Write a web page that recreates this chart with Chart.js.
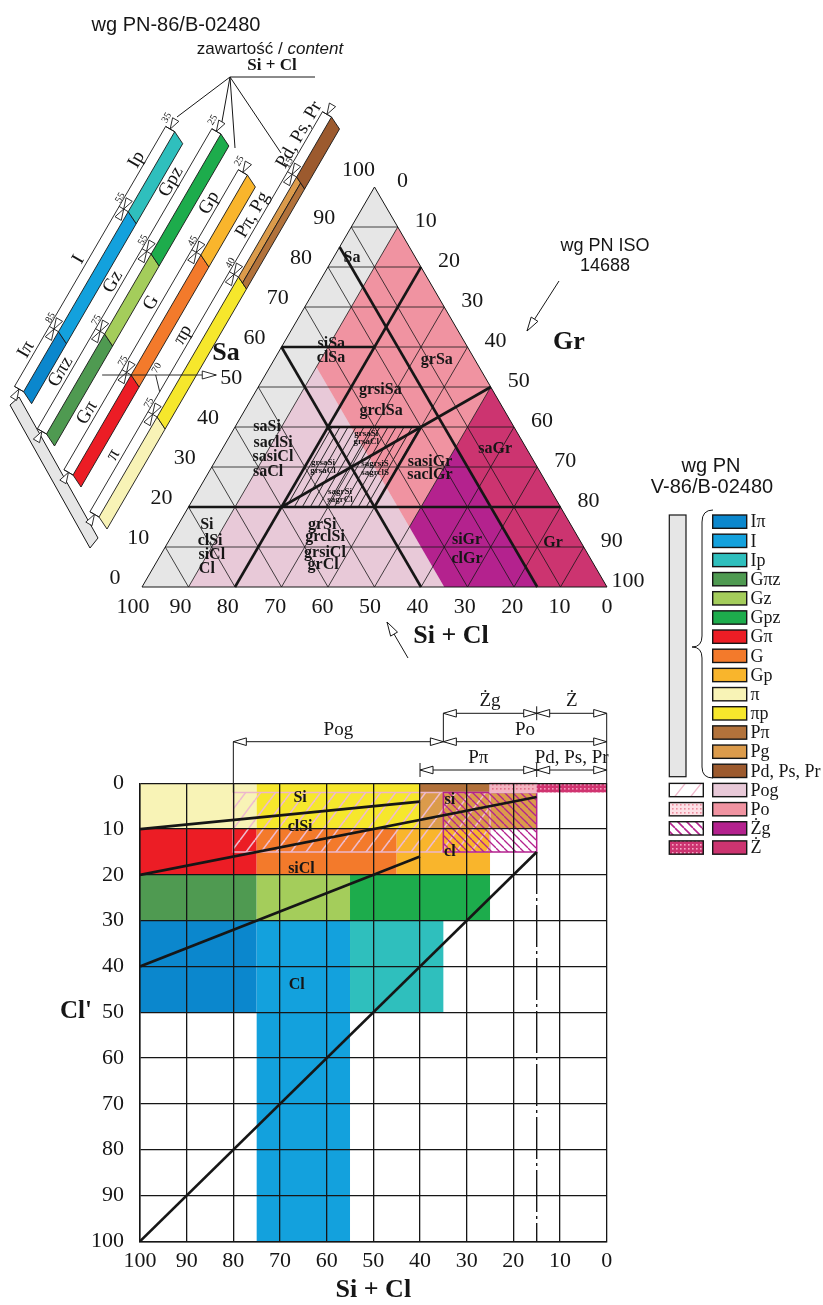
<!DOCTYPE html>
<html lang="pl">
<head>
<meta charset="utf-8">
<title>Klasyfikacja gruntów – PN-86/B-02480 i PN-EN ISO 14688</title>
<script src="https://cdn.jsdelivr.net/npm/chart.js@4.4.1/dist/chart.umd.min.js"></script>
<style>
  html, body { margin: 0; padding: 0; background: #fff; }
  body { position: relative; width: 823px; height: 1305px; overflow: hidden; }
  canvas { position: absolute; left: 0; }
  #tern { top: 0; }
  #grid { top: 680px; }
</style>
</head>
<body>
<canvas id="tern" width="823" height="1305"></canvas>
<canvas id="grid" width="640" height="625"></canvas>
<script>
const SERIF = '"Liberation Serif", "Times New Roman", serif';
const SANS = '"Liberation Sans", Arial, sans-serif';
const INK = '#161616';

// ---------- PN-86/B-02480 classes and their colours ----------
const classNames = ['Iπ', 'I', 'Ip', 'Gπz', 'Gz', 'Gpz', 'Gπ', 'G', 'Gp', 'π', 'πp', 'Pπ', 'Pg', 'Pd, Ps, Pr'];
const classColors = ['#0b87cd', '#13a1dd', '#2fbfbd', '#4f9a51', '#a4cd5b', '#1dac4c', '#ec1d25', '#f37a2b',
                     '#f9b52c', '#f8f3b6', '#f6e72c', '#b2723b', '#db9b4b', '#9c5a2e'];
const coarseNames = ['Pog', 'Po', 'Żg', 'Ż'];
const coarseColors = ['#e8c9d8', '#f093a1', '#b4228e', '#cc3470'];
function colorOf(name) {
  const i = classNames.indexOf(name);
  if (i >= 0) return classColors[i];
  return coarseColors[coarseNames.indexOf(name)];
}

// ---------- ternary diagram: Sa / Gr / (Si + Cl), vertices given as [Sa, Gr] in % ----------
const ternTicks = [0, 10, 20, 30, 40, 50, 60, 70, 80, 90, 100];
const zoneSand = [[0, 0], [0, 100], [100, 0]];
const zonePog = [[0, 10], [0, 65], [55, 10]];
const zonePo = [[55, 10], [90, 10], [50, 50], [15, 50]];
const zoneZg = [[35, 50], [15, 50], [0, 65], [0, 85]];
const zoneZ = [[50, 50], [35, 50], [0, 85], [0, 100]];
const zoneMixed = [[20, 20], [20, 40], [40, 40], [40, 20]];
// ISO 14688 class boundaries [Sa1, Gr1, Sa2, Gr2]
const isoBoundaries = [[20, 0, 20, 80], [85, 0, 0, 85], [60, 0, 0, 60], [0, 20, 80, 20],
                       [40, 20, 40, 40], [20, 40, 40, 40], [20, 20, 50, 50], [60, 0, 60, 20]];
// ISO 14688 soil names [name, Sa, Gr]
const isoNames = [
  ['Sa', 82.3, 4.0], ['siSa', 60.8, 10.3], ['clSa', 57.3, 12.0], ['grSa', 56.8, 35],
  ['grsiSa', 49.3, 26.6], ['grclSa', 44, 29.4], ['saGr', 34.5, 58.7],
  ['sasiGr', 31.3, 46.3], ['saclGr', 28, 47.9], ['siGr', 11.8, 64], ['clGr', 7, 66.4], ['Gr', 11, 82.9],
  ['grSi', 15.5, 31], ['grclSi', 12.5, 33.1], ['grsiCl', 8.5, 35.1], ['grCl', 5.5, 36.2],
  ['saSi', 40, 6.9], ['saclSi', 36, 10.2], ['sasiCl', 32.5, 11.9], ['saCl', 28.8, 12.7],
  ['Si', 15.5, 6.2], ['clSi', 11.5, 8.9], ['siCl', 8, 11], ['Cl', 4.5, 11.7]
];
const isoNamesSmall = [
  ['grsaSi', 38.3, 29.1], ['grsaCl', 36.3, 30.1], ['grsaSi', 31, 23.4], ['grsaCl', 29, 24.4],
  ['sagrsiS', 30.8, 34.7], ['sagrclS', 28.5, 35.9], ['sagrSi', 23.8, 30.7], ['sagrCl', 21.8, 31.7]
];

// ---------- Si + Cl content scales of the PN-86 classes [name, from, to] ----------
const scaleI = [['Iπ', 100, 85], ['I', 85, 55], ['Ip', 55, 35]];
const scaleGz = [['Gπz', 100, 75], ['Gz', 75, 55], ['Gpz', 55, 25]];
const scaleG = [['Gπ', 100, 75], ['G', 75, 45], ['Gp', 45, 25]];
const scaleP = [['π', 100, 75], ['πp', 75, 40], ['Pπ, Pg', 40, 15], ['Pd, Ps, Pr', 15, 0]];
const scaleMarks = [[85, 55, 35], [75, 55, 25], [75, 45, 25], [75, 40, 15]];

// ---------- Cl' versus Si + Cl chart ----------
const cellNames = ['π', 'πp', 'Pπ', 'Pg', 'Gπ', 'G', 'Gp', 'Gπz', 'Gz', 'Gpz', 'Iπ', 'I', 'Ip'];
const cellSiCl = [[100, 75], [75, 40], [40, 25], [40, 15], [100, 75], [75, 45], [45, 25],
                  [100, 75], [75, 55], [55, 25], [100, 75], [75, 55], [55, 35]];
const cellClp = [[0, 10], [0, 10], [0, 2], [2, 10], [10, 20], [10, 20], [10, 20],
                 [20, 30], [20, 30], [20, 30], [30, 50], [30, 100], [30, 50]];
const overlayNames = ['Pog', 'Żg', 'Po', 'Ż'];
const overlaySiCl = [[80, 25], [35, 15], [25, 15], [15, 0]];
const overlayClp = [[2, 15], [2, 15], [0, 2], [0, 2]];
// [Si+Cl, Cl', Si+Cl, Cl']
const clRatioLines = [[100, 10, 40, 4], [100, 20, 15, 3], [100, 40, 40, 16], [100, 100, 15, 15]];
const gravelLimit = [[15, 15], [15, 100]];
const bracketNames = ['Pog', 'Po', 'Żg', 'Ż', 'Pπ', 'Pd, Ps, Pr'];
const bracketSiCl = [[80, 35], [35, 0], [35, 15], [15, 0], [40, 15], [15, 0]];
const bracketRow = [2, 2, 3, 3, 1, 1];
const gridNames = [['Si', 65.7, 3.2], ['clSi', 65.7, 9.5], ['siCl', 65.4, 18.6], ['Cl', 66.4, 44],
                   ['si', 33.6, 3.6], ['cl', 33.6, 14.9]];

// ---------- helpers ----------
function makePattern(ctx, w, h, bg, paint) {
  const c = document.createElement('canvas');
  c.width = w; c.height = h;
  const g = c.getContext('2d');
  if (bg) { g.fillStyle = bg; g.fillRect(0, 0, w, h); }
  paint(g, w, h);
  return ctx.createPattern(c, 'repeat');
}
function strokeLines(g, color, width, segs) {
  g.strokeStyle = color; g.lineWidth = width;
  segs.forEach(([a, b, c, d]) => { g.beginPath(); g.moveTo(a, b); g.lineTo(c, d); g.stroke(); });
}
function dots(g, color, w, h) {
  g.fillStyle = color;
  for (let y = 0; y < h; y += 4) for (let x = (y / 4) % 2 ? 2 : 0; x < w; x += 4) g.fillRect(x, y, 1.6, 1.6);
}
function openArrow(ctx, tx, ty, dx, dy, len, half) {
  const bx = tx - dx * len, by = ty - dy * len;
  const keep = ctx.fillStyle;
  ctx.beginPath();
  ctx.moveTo(tx, ty);
  ctx.lineTo(bx - dy * half, by + dx * half);
  ctx.lineTo(bx + dy * half, by - dx * half);
  ctx.closePath();
  ctx.fillStyle = '#fff'; ctx.fill(); ctx.stroke();
  ctx.fillStyle = keep;
}
function line(ctx, a, b) { ctx.beginPath(); ctx.moveTo(a[0], a[1]); ctx.lineTo(b[0], b[1]); ctx.stroke(); }
function rotText(ctx, txt, x, y, ang) {
  ctx.save(); ctx.translate(x, y); ctx.rotate(ang);
  ctx.textAlign = 'center'; ctx.textBaseline = 'middle';
  ctx.fillText(txt, 0, 0); ctx.restore();
}

// Fills a dataset's points as a closed polygon (plain colour or pattern)
const polygonFill = {
  id: 'polygonFill',
  beforeDatasetDraw(chart, args) {
    const ds = chart.data.datasets[args.index];
    if (!ds.areaFill && !ds.outline) return;
    const pts = args.meta.data, ctx = chart.ctx;
    ctx.save();
    ctx.beginPath();
    pts.forEach((p, i) => (i ? ctx.lineTo(p.x, p.y) : ctx.moveTo(p.x, p.y)));
    ctx.closePath();
    if (ds.areaFill) { ctx.fillStyle = ds.areaFill; ctx.fill(); }
    if (ds.outline) { ctx.strokeStyle = ds.outline; ctx.lineWidth = ds.outlineWidth || 1; ctx.stroke(); }
    ctx.restore();
  }
};

// =====================================================================
// Ternary diagram + the class scales on the left + legend on the right
// =====================================================================
const ternCanvas = document.getElementById('tern');
const tctx = ternCanvas.getContext('2d');
const hatchMixed = makePattern(tctx, 8, 14, null, g =>
  strokeLines(g, '#111', 0.9, [[0, 14, 8, 0], [-8, 14, 0, 0], [8, 14, 16, 0]]));

const T = (sa, gr) => ({ x: gr + sa / 2, y: sa });
const ternSets = [];
function ternZone(vs, fillStyle) {
  ternSets.push({ data: vs.map(v => T(v[0], v[1])), showLine: false, pointRadius: 0, areaFill: fillStyle });
}
function ternSeg(sa1, gr1, sa2, gr2, width) {
  ternSets.push({ data: [T(sa1, gr1), T(sa2, gr2)], showLine: true, fill: false, borderColor: INK,
                  borderWidth: width, pointRadius: 0, clip: 20 });
}
ternZone(zoneSand, '#e6e6e6');
ternZone(zonePog, colorOf('Pog'));
ternZone(zonePo, colorOf('Po'));
ternZone(zoneZg, colorOf('Żg'));
ternZone(zoneZ, colorOf('Ż'));
ternZone(zoneMixed, hatchMixed);
ternTicks.slice(1, -1).forEach(v => {
  ternSeg(v, 0, v, 100 - v, 0.8);          // constant Sa
  ternSeg(0, v, 100 - v, v, 0.8);          // constant Gr
  ternSeg(100 - v, 0, 0, 100 - v, 0.8);    // constant Si + Cl
});
isoBoundaries.forEach(b => ternSeg(b[0], b[1], b[2], b[3], 2.6));
ternSeg(0, 0, 100, 0, 1); ternSeg(100, 0, 0, 100, 1); ternSeg(0, 0, 0, 100, 1);
ternSets.forEach((d, i) => { d.order = -i; });

const columnShift = [[-118.4, -195.3], [-95.5, -153], [-69, -112], [-43, -70]];
const columnScales = [scaleI, scaleGz, scaleG, scaleP];

function drawScales(ctx, sx, sy) {
  const e0 = [sx.getPixelForValue(0), sy.getPixelForValue(0)];
  const e1 = [sx.getPixelForValue(50), sy.getPixelForValue(100)];
  const L = Math.hypot(e1[0] - e0[0], e1[1] - e0[1]);
  const up = [(e1[0] - e0[0]) / L, (e1[1] - e0[1]) / L];
  const pl = [up[1], -up[0]];
  const ang = Math.atan2(up[1], up[0]);
  const cut = [8, 12];
  const q = [pl[0] * 10.5, pl[1] * 10.5];
  const add = (a, b, k = 1) => [a[0] + b[0] * k, a[1] + b[1] * k];
  const cp = (k, s) => [sx.getPixelForValue((100 - s) / 2) + columnShift[k][0],
                        sy.getPixelForValue(100 - s) + columnShift[k][1]];
  ctx.lineWidth = 0.9; ctx.strokeStyle = INK;
  function quad(a, b, f0, f1, color) {
    ctx.beginPath();
    const p = [add(a, cut, f0), add(b, cut, f0), add(b, cut, f1), add(a, cut, f1)];
    p.forEach((v, i) => (i ? ctx.lineTo(v[0], v[1]) : ctx.moveTo(v[0], v[1])));
    ctx.closePath();
    if (color) { ctx.fillStyle = color; ctx.fill(); }
    ctx.stroke();
  }
  columnScales.forEach((segs, k) => {
    segs.forEach(([name, s1, s2]) => {
      const a = cp(k, s1), b = cp(k, s2);
      if (name === 'Pπ, Pg') {
        quad(a, b, 0, 0.5, colorOf('Pg'));
        quad(a, b, 0.5, 1, colorOf('Pπ'));
      } else quad(a, b, 0, 1, colorOf(name));
    });
    const sBot = segs[0][1], sTop = segs[segs.length - 1][2];
    const bot = cp(k, sBot), top = cp(k, sTop);
    line(ctx, add(bot, q), add(top, q));
    line(ctx, bot, add(bot, q));
    line(ctx, top, add(top, q));
    const bounds = [sBot].concat(segs.map(s => s[2]));
    bounds.forEach(b => {
      const p = cp(k, b);
      line(ctx, p, add(p, q));
      const m = add(p, q, 0.5);
      if (b < sBot) openArrow(ctx, m[0], m[1], -up[0], -up[1], 11, 3.6);
      if (b > sTop) openArrow(ctx, m[0], m[1], up[0], up[1], 11, 3.6);
    });
    ctx.fillStyle = INK;
    ctx.font = `10px ${SERIF}`;
    scaleMarks[k].forEach(b => {
      const p = add(add(cp(k, b), pl, 14), up, 8);
      rotText(ctx, String(b), p[0], p[1], ang);
    });
    ctx.font = `19px ${SERIF}`;
    segs.forEach(([name, s1, s2]) => {
      const p = add(add(cp(k, (s1 + s2) / 2), pl, 19), up, 3);
      rotText(ctx, name, p[0], p[1], ang);
    });
  });
  // Si+Cl = 75 of the G column read against Sa = 50
  const g75 = cp(2, 75);
  const tip = sx.getPixelForValue(25) - 42;
  line(ctx, [g75[0] - 29, g75[1]], [tip, g75[1]]);
  openArrow(ctx, tip, g75[1], 1, 0, 14, 4);
  const p70 = add(cp(3, 70), q);
  line(ctx, p70, [p70[0] - 4, g75[1]]);
  ctx.fillStyle = INK; ctx.font = `10px ${SERIF}`;
  const t70 = add(add(cp(3, 70), pl, 25), up, 19);
  rotText(ctx, '70', t70[0], t70[1], ang);
}

function drawLegend(ctx) {
  ctx.fillStyle = INK; ctx.strokeStyle = INK;
  ctx.font = `20px ${SANS}`; ctx.textAlign = 'center'; ctx.textBaseline = 'middle';
  ctx.fillText('wg PN', 711, 466);
  ctx.fillText('V-86/B-02480', 712, 487);
  const x0 = 712.7, w = 34, h = 13.3, step = 19.17, y0 = 515;
  // grey column standing for every class in the brace
  ctx.lineWidth = 1.2;
  ctx.fillStyle = '#e6e6e6';
  ctx.fillRect(669.3, 515, 16.7, 261.7); ctx.strokeRect(669.3, 515, 16.7, 261.7);
  // brace
  ctx.lineWidth = 1;
  ctx.beginPath();
  ctx.moveTo(713, 510); ctx.quadraticCurveTo(702, 510, 702, 522); ctx.lineTo(702, 636);
  ctx.quadraticCurveTo(702, 647, 692, 647); ctx.quadraticCurveTo(702, 647, 702, 658);
  ctx.lineTo(702, 767); ctx.quadraticCurveTo(702, 778, 713, 778); ctx.stroke();
  const names = classNames.concat(coarseNames);
  const pats = [
    makePattern(ctx, 16, 20, '#fff', g => strokeLines(g, '#efb9cd', 1.4, [[0, 20, 16, 0], [-16, 20, 0, 0], [16, 20, 32, 0]])),
    makePattern(ctx, 4, 4, '#fde0e6', g => dots(g, '#ee8ea0', 4, 4)),
    makePattern(ctx, 9, 9, '#fff', g => strokeLines(g, '#b4228e', 1.6, [[0, 0, 9, 9], [-9, 0, 0, 9], [9, 0, 18, 9]])),
    makePattern(ctx, 4, 4, '#cc3470', g => dots(g, '#f6a8c6', 4, 4))
  ];
  ctx.font = `18px ${SERIF}`; ctx.textAlign = 'left';
  names.forEach((n, i) => {
    const y = y0 + i * step;
    ctx.lineWidth = 1.4;
    ctx.fillStyle = colorOf(n); ctx.fillRect(x0, y, w, h); ctx.strokeRect(x0, y, w, h);
    if (i >= classNames.length) {
      ctx.fillStyle = pats[i - classNames.length];
      ctx.fillRect(669.3, y, w, h); ctx.strokeRect(669.3, y, w, h);
    }
    ctx.fillStyle = INK;
    ctx.fillText(n, 750.5, y + h / 2 + 1);
  });
}

const ternDecor = {
  id: 'ternDecor',
  afterDatasetsDraw(chart) {
    const ctx = chart.ctx, sx = chart.scales.x, sy = chart.scales.y;
    const P = (sa, gr) => [sx.getPixelForValue(gr + sa / 2), sy.getPixelForValue(sa)];
    ctx.save();
    ctx.fillStyle = INK; ctx.strokeStyle = INK;
    ctx.textAlign = 'center'; ctx.textBaseline = 'middle';
    // axis values
    ctx.font = `22px ${SERIF}`;
    ternTicks.forEach(v => {
      let p = P(v, 0);
      if (v === 100) ctx.fillText('100', p[0] - 16, p[1] - 17);
      else ctx.fillText(String(v), p[0] - 27, p[1] - 9);
      p = P(100 - v, v);
      ctx.fillText(String(v), p[0] + (v === 100 ? 21 : 28), p[1] - 6);
      p = P(0, 100 - v);
      ctx.fillText(String(v), p[0] - 9 * v / 100, p[1] + 20);
    });
    // axis names
    ctx.font = `bold 26px ${SERIF}`;
    ctx.fillText('Sa', 226, 353);
    ctx.fillText('Gr', 569, 342);
    ctx.fillText('Si + Cl', 451, 636);
    // soil names
    ctx.font = `bold 16px ${SERIF}`;
    isoNames.forEach(([n, sa, gr]) => { const p = P(sa, gr); ctx.fillText(n, p[0], p[1]); });
    ctx.font = `bold 9px ${SERIF}`;
    isoNamesSmall.forEach(([n, sa, gr]) => { const p = P(sa, gr); ctx.fillText(n, p[0], p[1]); });
    // pointers
    ctx.lineWidth = 1;
    line(ctx, [408, 658], [387, 622]);
    openArrow(ctx, 387, 622, -0.504, -0.864, 14, 4);
    line(ctx, [559, 281], [527, 331]);
    openArrow(ctx, 527, 331, -0.539, 0.842, 14, 4);
    ctx.fillStyle = INK;
    ctx.font = `18px ${SANS}`;
    ctx.fillText('wg PN ISO', 605, 246);
    ctx.fillText('14688', 605, 266);
    // title and content note
    ctx.font = `20px ${SANS}`;
    ctx.fillText('wg PN-86/B-02480', 176, 25);
    const a = 'zawartość ', b = '/ ';
    ctx.font = `17px ${SANS}`;
    const wa = ctx.measureText(a).width, wb = ctx.measureText(b).width;
    ctx.font = `italic 17px ${SANS}`;
    const wc = ctx.measureText('content').width;
    const x = 270 - (wa + wb + wc) / 2;
    ctx.textAlign = 'left';
    ctx.font = `17px ${SANS}`; ctx.fillText(a + b, x, 49);
    ctx.font = `italic 17px ${SANS}`; ctx.fillText('content', x + wa + wb, 49);
    ctx.textAlign = 'center';
    ctx.font = `bold 17px ${SERIF}`; ctx.fillText('Si + Cl', 272, 66);
    ctx.lineWidth = 1;
    line(ctx, [230, 77], [315, 77]);
    [[177, 117], [221, 127], [235, 148], [281, 153]].forEach(e => line(ctx, [230, 77], e));
    // grey bar for the soils not split by Si+Cl
    ctx.beginPath();
    ctx.moveTo(10, 405); ctx.lineTo(19, 397); ctx.lineTo(98, 538); ctx.lineTo(90, 548); ctx.closePath();
    ctx.fillStyle = '#e6e6e6'; ctx.fill(); ctx.stroke();
    drawScales(ctx, sx, sy);
    drawLegend(ctx);
    ctx.restore();
  }
};

new Chart(ternCanvas, {
  type: 'scatter',
  data: { datasets: ternSets },
  options: {
    responsive: false, animation: false, events: [],
    layout: { padding: { left: 142, right: 216, top: 187, bottom: 718 } },
    scales: { x: { min: 0, max: 100, display: false }, y: { min: 0, max: 100, display: false } },
    plugins: { legend: { display: false }, tooltip: { enabled: false } }
  },
  plugins: [polygonFill, ternDecor]
});

// =====================================================================
// Cl' against Si + Cl
// =====================================================================
const gridCanvas = document.getElementById('grid');
const gctx = gridCanvas.getContext('2d');
const overlayFills = [
  makePattern(gctx, 15, 20, null, g => strokeLines(g, '#eebbcf', 1.6, [[0, 20, 15, 0], [-15, 20, 0, 0], [15, 20, 30, 0]])),
  makePattern(gctx, 8, 8, null, g => strokeLines(g, '#b4228e', 1.3, [[0, 0, 8, 8], [-8, 0, 0, 8], [8, 0, 16, 8]])),
  makePattern(gctx, 4, 4, '#f4b3c0', g => dots(g, '#e2738a', 4, 4)),
  makePattern(gctx, 4, 4, '#d03470', g => dots(g, '#f39abd', 4, 4))
];
const overlayEdges = ['#ecb6cb', '#b4228e', '#ecb6cb', null];

const gridSets = [];
const rect = (xs, ys) => [{ x: xs[0], y: ys[0] }, { x: xs[1], y: ys[0] }, { x: xs[1], y: ys[1] }, { x: xs[0], y: ys[1] }];
cellNames.forEach((n, i) => gridSets.push({ data: rect(cellSiCl[i], cellClp[i]), showLine: false, pointRadius: 0,
                                            areaFill: colorOf(n) }));
overlayNames.forEach((n, i) => gridSets.push({ data: rect(overlaySiCl[i], overlayClp[i]), showLine: false, pointRadius: 0,
                                               areaFill: overlayFills[i], outline: overlayEdges[i], outlineWidth: 1.5 }));
clRatioLines.forEach(l => gridSets.push({ data: [{ x: l[0], y: l[1] }, { x: l[2], y: l[3] }], showLine: true, fill: false,
                                          borderColor: INK, borderWidth: 2.6, pointRadius: 0 }));
gridSets.push({ data: gravelLimit.map(p => ({ x: p[0], y: p[1] })), showLine: true, fill: false, borderColor: INK,
                borderWidth: 1.4, borderDash: [42, 4, 3, 4], pointRadius: 0 });
gridSets.forEach((d, i) => { d.order = -i; });

const gridDecor = {
  id: 'gridDecor',
  afterDraw(chart) {
    const ctx = chart.ctx, sx = chart.scales.x, sy = chart.scales.y;
    ctx.save();
    ctx.fillStyle = INK; ctx.strokeStyle = INK;
    ctx.textAlign = 'center'; ctx.textBaseline = 'middle';
    ctx.font = `bold 16px ${SERIF}`;
    gridNames.forEach(([n, x, y]) => ctx.fillText(n, sx.getPixelForValue(x), sy.getPixelForValue(y)));
    ctx.font = `bold 25px ${SERIF}`;
    ctx.fillText("Cl'", 76, 332);
    ctx.font = `bold 26px ${SERIF}`;
    ctx.fillText('Si + Cl', (chart.chartArea.left + chart.chartArea.right) / 2, 610);
    // class ranges above the chart
    const rowY = { 1: 90, 2: 61.7, 3: 33.3 };
    const top = chart.chartArea.top;
    ctx.lineWidth = 1;
    line(ctx, [sx.getPixelForValue(80), rowY[2]], [sx.getPixelForValue(80), sy.getPixelForValue(2)]);
    line(ctx, [sx.getPixelForValue(35), rowY[3]], [sx.getPixelForValue(35), rowY[2]]);
    line(ctx, [sx.getPixelForValue(0), rowY[3]], [sx.getPixelForValue(0), top]);
    [[40, 1], [15, 1], [15, 3]].forEach(([v, r]) =>
      line(ctx, [sx.getPixelForValue(v), rowY[r] - 7], [sx.getPixelForValue(v), rowY[r] + 7]));
    ctx.font = `19px ${SERIF}`;
    bracketNames.forEach((n, i) => {
      const y = rowY[bracketRow[i]];
      const xa = sx.getPixelForValue(bracketSiCl[i][0]), xb = sx.getPixelForValue(bracketSiCl[i][1]);
      line(ctx, [xa, y], [xb, y]);
      openArrow(ctx, xa, y, -1, 0, 13, 3.8);
      openArrow(ctx, xb, y, 1, 0, 13, 3.8);
      ctx.fillText(n, (xa + xb) / 2, y - 12);
    });
    ctx.restore();
  }
};

new Chart(gridCanvas, {
  type: 'scatter',
  data: { datasets: gridSets },
  options: {
    responsive: false, animation: false, events: [],
    layout: { padding: { left: 0, right: 33.3, top: 103.3, bottom: 0 } },
    scales: {
      x: {
        type: 'linear', min: 0, max: 100, reverse: true, position: 'bottom',
        ticks: { stepSize: 10, autoSkip: false, maxRotation: 0, padding: 7, color: INK,
                 font: { family: SERIF, size: 22 } },
        grid: { color: INK, lineWidth: 1.3, drawTicks: false, z: 1 },
        border: { color: INK, width: 1.5, z: 1 },
        afterFit: s => { s.height = 63.7; }
      },
      y: {
        type: 'linear', min: 0, max: 100, reverse: true, position: 'left',
        ticks: { stepSize: 10, autoSkip: false, padding: 16, color: INK, font: { family: SERIF, size: 22 } },
        grid: { color: INK, lineWidth: 1.3, drawTicks: false, z: 1 },
        border: { color: INK, width: 1.5, z: 1 },
        afterFit: s => { s.width = 140; }
      }
    },
    plugins: { legend: { display: false }, tooltip: { enabled: false } }
  },
  plugins: [polygonFill, gridDecor]
});
</script>
</body>
</html>
